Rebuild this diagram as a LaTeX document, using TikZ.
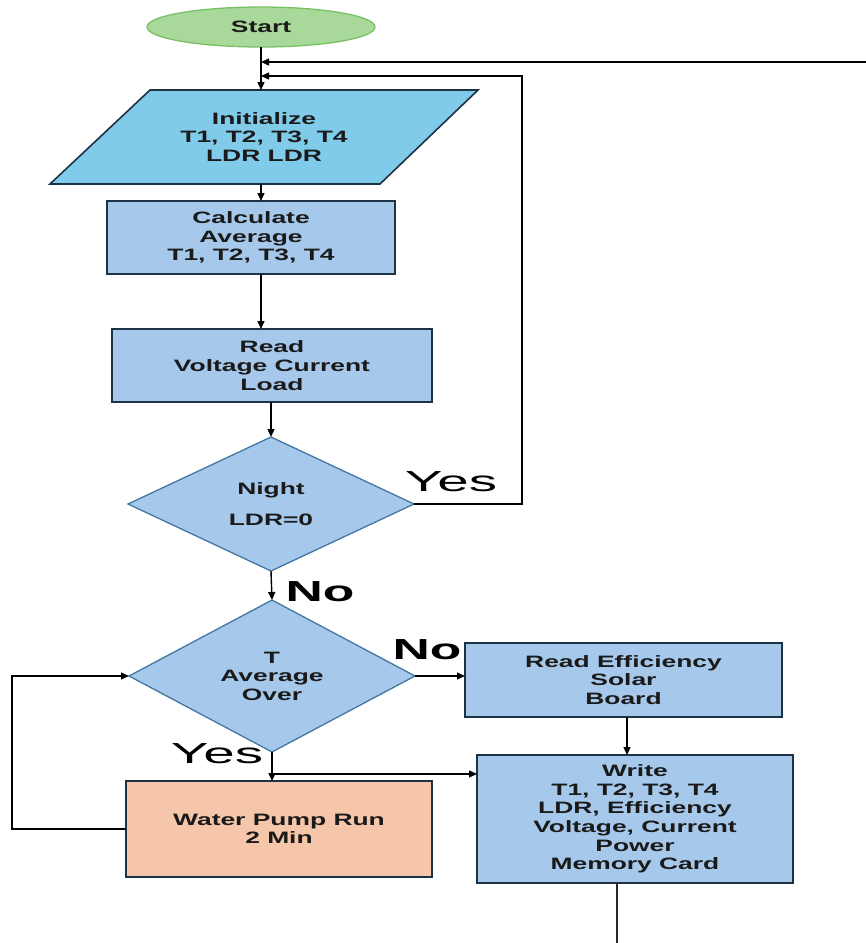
\documentclass[tikz,border=0pt]{standalone}
\usepackage{fontspec}
\setmainfont{Liberation Sans}
\newfontfamily\nodefont[FakeStretch=1.6]{Liberation Sans}
\newfontfamily\labfont[FakeStretch=1.95]{Liberation Sans}
\newfontfamily\labbfont[FakeStretch=1.78]{Liberation Sans}
\usetikzlibrary{shapes.geometric,arrows.meta,calc}
\definecolor{boxfill}{HTML}{A6C9EB}
\definecolor{boxline}{HTML}{1E3246}
\definecolor{initfill}{HTML}{80CBEA}
\definecolor{diafill}{HTML}{A6C9EB}
\definecolor{dialine}{HTML}{44779F}
\definecolor{startfill}{HTML}{A9D89B}
\definecolor{startline}{HTML}{78C063}
\definecolor{pumpfill}{HTML}{F5C6A9}
\definecolor{txtcol}{HTML}{1A1A1A}
\begin{document}
\begin{tikzpicture}[x=1pt,y=-1pt,
  txt/.style={font=\nodefont\bfseries\fontsize{16.5}{18.6}\selectfont, align=center, text=txtcol, inner sep=0pt, outer sep=0pt},
  procbox/.style={txt, rectangle, draw=boxline, line width=1.6pt, fill=boxfill},
  decbox/.style={txt, diamond, draw=dialine, line width=1.3pt, fill=diafill},
  startnode/.style={txt, ellipse, draw=startline, line width=1.3pt, fill=startfill},
  pumpbox/.style={procbox, fill=pumpfill},
  arr/.style={draw=black, line width=1.4pt, -{Triangle[length=8pt,width=7pt]}},
  plain/.style={draw=black!85, line width=1.5pt},
  lab/.style={font=\labfont\fontsize{29}{32}\selectfont, text=black, inner sep=0pt},
  labb/.style={font=\labbfont\bfseries\fontsize{29}{32}\selectfont, text=black, inner sep=0pt}]
\useasboundingbox (0,0) rectangle (866,943);

% nodes
\node[startnode, minimum width=228pt, minimum height=40pt] (start) at (261,27) {Start};
\path[draw=boxline, fill=initfill, line width=1.6pt] (150,90) -- (478,90) -- (380,184) -- (50,184) -- cycle;
\node[txt, minimum width=330pt, minimum height=94pt] (init) at (264,137) {Initialize\\T1, T2, T3, T4\\LDR LDR};
\node[procbox, minimum width=288pt, minimum height=73pt] (calc) at (251,237.5) {Calculate\\Average\\T1, T2, T3, T4};
\node[procbox, minimum width=320pt, minimum height=73pt] (read) at (272,365.5) {Read\\Voltage Current\\Load};
\node[decbox, minimum width=286pt, minimum height=134pt] (night) at (271,504) {Night\\[13pt]LDR=0};
\node[decbox, minimum width=286pt, minimum height=135pt] (avg) at (272,676) {T\\Average\\Over};
\node[procbox, minimum width=317pt, minimum height=74pt] (eff) at (623.5,680) {Read Efficiency\\Solar\\Board};
\node[procbox, minimum width=316pt, minimum height=128pt] (write) at (635,819) {Write\\T1, T2, T3, T4\\LDR, Efficiency\\Voltage, Current\\Power\\Memory Card};
\node[pumpbox, minimum width=306pt, minimum height=96pt] (pump) at (279,829) {Water Pump Run\\2 Min};

% labels
\node[lab, anchor=base] (yes1) at (451,491) {Yes};
\node[labb, anchor=base] (no1) at (320,601) {No};
\node[labb, anchor=base] (no2) at (427,659) {No};
\node[lab, anchor=base] (yes2) at (217,763) {Yes};

% coordinates
\coordinate (loopin) at (866,62);
\coordinate (yesturn) at (522,76);
\coordinate (lp) at (12,834);
\coordinate (bot) at (617,943);
\coordinate (ybr) at ($(avg.south)+(0,22)$);

% connectors
\draw[arr] (start.south) -- (start.south |- init.north);
\draw[arr] (loopin) -- (loopin -| start.south);
\draw[arr] (night.east) -- (night.east -| yesturn) -- (yesturn) -- (yesturn -| start.south);
\draw[arr] (init.south -| start.south) -- (start.south |- calc.north);
\draw[arr] (start.south |- calc.south) -- (start.south |- read.north);
\draw[arr] (read.south -| night.north) -- (night.north);
\draw[arr] (night.south) -- (avg.north);
\draw[arr] (avg.east) -- (avg.east -| eff.west);
\draw[arr] ([xshift=3.5pt]eff.south) -- ([xshift=3.5pt]eff.south |- write.north);
\draw[arr] (avg.south) -- (avg.south |- pump.north);
\draw[arr] (ybr) -- (ybr -| write.west);
\draw[arr] (pump.west) -- (pump.west -| lp) -- (lp |- avg.west) -- (avg.west);
\draw[plain] (write.south -| bot) -- (bot);
\end{tikzpicture}
\end{document}
